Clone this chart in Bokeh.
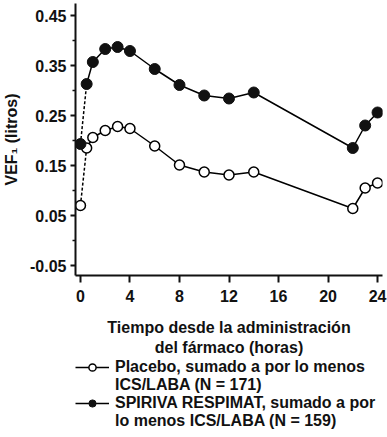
from bokeh.plotting import figure
from bokeh.layouts import column
from bokeh.models import Range1d, FixedTicker, Legend, LegendItem
from bokeh.embed import file_html
from bokeh.resources import INLINE

# Data
hours = [0, 0.5, 1, 2, 3, 4, 6, 8, 10, 12, 14, 22, 23, 24]
placebo = [0.070, 0.185, 0.206, 0.220, 0.228, 0.224, 0.189, 0.151, 0.137, 0.131, 0.137, 0.064, 0.105, 0.115]
spiriva = [0.193, 0.313, 0.357, 0.383, 0.387, 0.379, 0.343, 0.311, 0.290, 0.284, 0.296, 0.185, 0.230, 0.256]

x_ticks = [0, 4, 8, 12, 16, 20, 24]
y_ticks = [-0.05, 0.05, 0.15, 0.25, 0.35, 0.45]
y_tick_labels = ["-0.05", "0.05", "0.15", "0.25", "0.35", "0.45"]
y_minor = [-0.0, 0.10, 0.20, 0.30, 0.40]

series_labels = [
    ["Placebo, sumado a por lo menos", "ICS/LABA (N = 171)"],
    ["SPIRIVA RESPIMAT, sumado a por", "lo menos ICS/LABA (N = 159)"],
]
x_label = "Tiempo desde la administración\ndel fármaco (horas)"
y_label = "VEF₁ (litros)"

FONT = "Liberation Sans"
INK = "#111111"
PLACEBO_STYLE = dict(size=10, fill_color="white", line_color="black", line_width=1.5)
SPIRIVA_STYLE = dict(size=11, fill_color=INK, line_color=INK, line_width=1)

p = figure(width=387, height=358, output_backend="svg", toolbar_location=None,
           x_range=Range1d(-0.4, 24.4), y_range=Range1d(-0.070, 0.474),
           min_border_left=73, min_border_top=3, min_border_right=5, min_border_bottom=80)
p.grid.visible = False
p.outline_line_color = None

# dashed first segments
p.line(hours[:2], placebo[:2], line_color="black", line_width=1.5, line_dash="3 2")
p.line(hours[:2], spiriva[:2], line_color="black", line_width=1.5, line_dash="3 2")
p.line(hours[1:], placebo[1:], line_color="black", line_width=1.5)
p.line(hours[1:], spiriva[1:], line_color="black", line_width=1.5)
p.scatter(hours, placebo, **PLACEBO_STYLE)
p.scatter(hours, spiriva, **SPIRIVA_STYLE)

for ax in (p.xaxis[0], p.yaxis[0]):
    ax.axis_line_width = 2
    ax.axis_line_color = INK
    ax.major_tick_line_width = 2
    ax.major_tick_line_color = INK
    ax.minor_tick_line_color = INK
    ax.major_tick_in = 0
    ax.minor_tick_in = 0
    ax.major_label_text_font = FONT
    ax.major_label_text_font_style = "bold"
    ax.major_label_text_font_size = "16px"
    ax.major_label_text_color = INK
    ax.axis_label_text_font = FONT
    ax.axis_label_text_font_style = "bold"
    ax.axis_label_text_font_size = "16px"
    ax.axis_label_text_color = INK

xa = p.xaxis[0]
xa.ticker = FixedTicker(ticks=x_ticks)
xa.major_tick_out = 7
xa.minor_tick_out = 0
xa.major_label_standoff = 7
xa.axis_label = x_label
xa.axis_label_standoff = 14

ya = p.yaxis[0]
ya.ticker = FixedTicker(ticks=y_ticks, minor_ticks=y_minor)
ya.major_label_overrides = {t: l for t, l in zip(y_ticks, y_tick_labels)}
ya.major_tick_out = 5
ya.minor_tick_out = 3
ya.minor_tick_line_width = 1.5
ya.major_label_standoff = 4
ya.axis_label = y_label
ya.axis_label_standoff = 7

# Legend panel (series renderers lie outside its visible range; only the legend shows)
lg = figure(width=387, height=79, output_backend="svg", toolbar_location=None,
            x_axis_type=None, y_axis_type=None,
            x_range=Range1d(-0.4, 24.4), y_range=Range1d(10, 11),
            min_border_left=0, min_border_top=0, min_border_right=0, min_border_bottom=0)
lg.grid.visible = False
lg.outline_line_color = None
lp = lg.line(hours, placebo, line_color="black", line_width=1.5)
cp = lg.scatter(hours, placebo, **PLACEBO_STYLE)
ls = lg.line(hours, spiriva, line_color="black", line_width=1.5)
cs = lg.scatter(hours, spiriva, **SPIRIVA_STYLE)

legend = Legend(items=[
    LegendItem(label=series_labels[0][0], renderers=[lp, cp]),
    LegendItem(label=series_labels[0][1], renderers=[]),
    LegendItem(label=series_labels[1][0], renderers=[ls, cs]),
    LegendItem(label=series_labels[1][1], renderers=[]),
], location="top_left")
legend.label_text_font = FONT
legend.label_text_font_style = "bold"
legend.label_text_font_size = "16px"
legend.label_text_color = INK
legend.border_line_alpha = 0
legend.background_fill_alpha = 0
legend.glyph_width = 34
legend.glyph_height = 18
legend.label_height = 18
legend.label_standoff = 6
legend.padding = 0
legend.margin = 0
legend.spacing = 0
lg.add_layout(legend, "center")

open("out.html", "w").write(file_html(column(p, lg), INLINE))
